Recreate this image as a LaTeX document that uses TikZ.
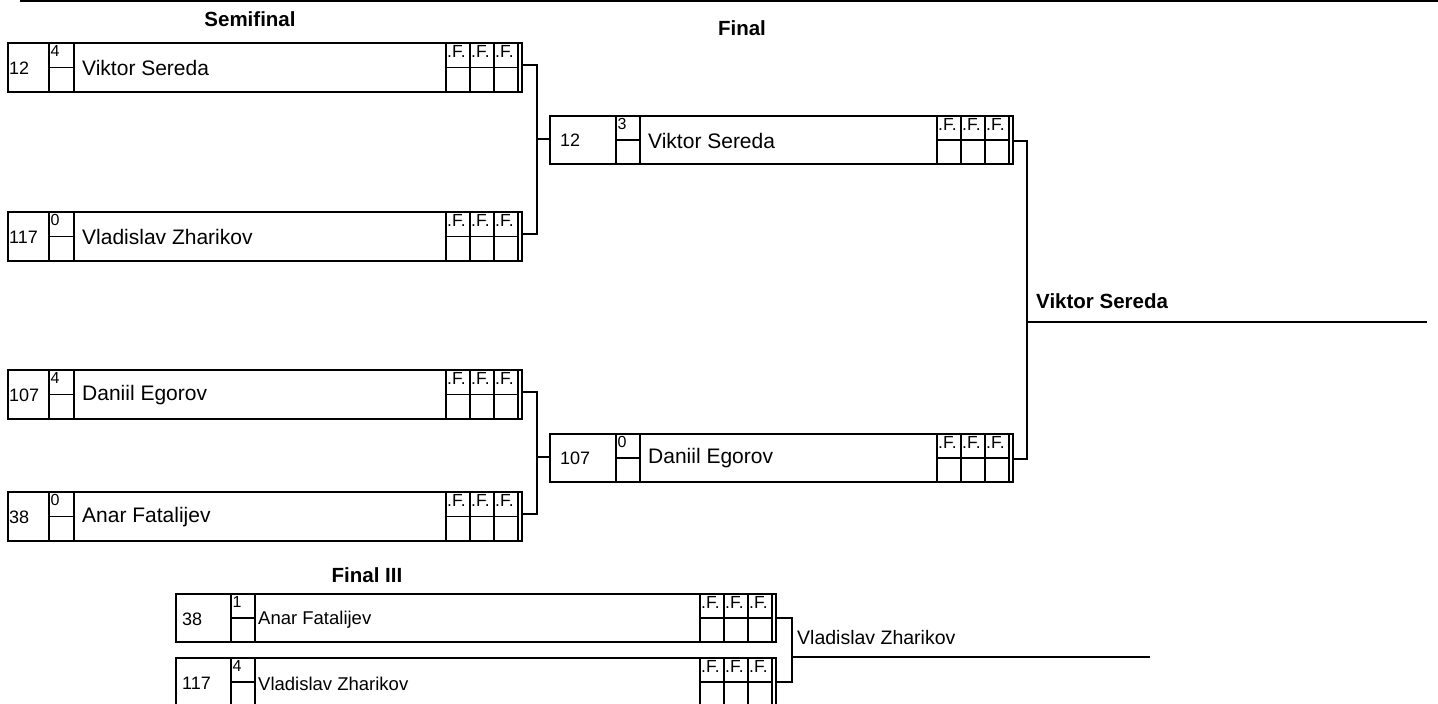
\documentclass[tikz,border=0pt]{standalone}
\usepackage{fontspec}
\setmainfont{Liberation Sans}
\usetikzlibrary{fit}
\tikzset{
  boxn/.style={draw, line width=1.3pt, inner sep=0pt},
  cell/.style={line width=1.8pt},
  conn/.style={line width=1.3pt},
  flab/.style={font=\fontsize{17.5}{19}\selectfont, anchor=north west, inner sep=0pt},
  scoret/.style={font=\fontsize{16}{18}\selectfont, anchor=north west, inner sep=0pt},
  seedt/.style={font=\fontsize{18}{20}\selectfont, anchor=west, inner sep=0pt},
  pname/.style={font=\fontsize{21}{24}\selectfont, anchor=west, inner sep=0pt},
  pnamesmall/.style={font=\fontsize{18.5}{21}\selectfont, anchor=west, inner sep=0pt},
  title/.style={font=\bfseries\fontsize{20.5}{24}\selectfont, inner sep=0pt},
  winner/.style={font=\bfseries\fontsize{20.5}{24}\selectfont, anchor=west, inner sep=0pt},
  winnersmall/.style={font=\fontsize{19.5}{22}\selectfont, anchor=west, inner sep=0pt},
}
% #1 name, #2 L, #3 T, #4 B, #5 S1, #6 S2, #7 R
\newcommand\genbox[7]{%
  \coordinate (#1-nw) at (#2,#3);
  \coordinate (#1-se) at (#7,#4);
  \node[boxn, fit=(#1-nw)(#1-se)] (#1) {};
  \draw[cell] (#5,#3) -- (#5,#4) (#6,#3) -- (#6,#4)
    (#5,#3) -- (#6,#3) (#5,#4) -- (#6,#4)
    (#5,{(#3+#4)/2}) -- (#6,{(#3+#4)/2});
  \draw[cell] (#7-76,#3) -- (#7-76,#4) (#7-52,#3) -- (#7-52,#4)
    (#7-28,#3) -- (#7-28,#4) (#7-4,#3) -- (#7-4,#4)
    (#7-76,{(#3+#4)/2}) -- (#7-4,{(#3+#4)/2})
    (#7-76,#3) -- (#7-4,#3) (#7-76,#4) -- (#7-4,#4);
  \foreach \fx in {76,52,28} \node[flab] (#1-f\fx) at (#7-\fx+1,#3+2.5) {.F.};
}
% name, top, seed, score, player
\newcommand\semibox[5]{%
  \genbox{#1}{8}{#2}{#2+49}{49}{74}{522}
  \coordinate (#1-out) at (522,#2+22);
  \node[seedt] (#1-seed) at (9,#2+25) {#3};
  \node[scoret] (#1-score) at (50.5,#2+2.5) {#4};
  \node[pname] (#1-name) at (82,#2+25) {#5};
}
\newcommand\finbox[5]{%
  \genbox{#1}{550}{#2}{#2+48}{616}{640}{1013}
  \coordinate (#1-in) at (550,#2+23);
  \coordinate (#1-out) at (1013,#2+25);
  \node[seedt] (#1-seed) at (560,#2+24.5) {#3};
  \node[scoret] (#1-score) at (617.5,#2+2.5) {#4};
  \node[pname] (#1-name) at (648,#2+24.5) {#5};
}
\newcommand\thirdbox[5]{%
  \genbox{#1}{176}{#2}{#2+48}{231}{255}{776}
  \coordinate (#1-out) at (776,#2+24);
  \node[seedt] (#1-seed) at (182,#2+25) {#3};
  \node[scoret] (#1-score) at (232.5,#2+2.5) {#4};
  \node[pnamesmall] (#1-name) at (258,#2+26) {#5};
}
\begin{document}
\begin{tikzpicture}[x=1pt,y=-1pt]
\useasboundingbox (0,0) rectangle (1438,704);
\clip (0,0) rectangle (1438,704);
% top rule
\coordinate (topl) at (20,1);
\coordinate (topr) at (1438,1);
\draw[line width=2pt] (topl) -- (topr);
% titles
\node[title] (tsemi) at (250,19) {Semifinal};
\node[title] (tfin) at (742,28) {Final};
\node[title] (tthird) at (367,575) {Final III};
% semifinal
\semibox{s1}{43}{12}{4}{Viktor Sereda}
\semibox{s2}{212}{117}{0}{Vladislav Zharikov}
\semibox{s3}{370}{107}{4}{Daniil Egorov}
\semibox{s4}{492}{38}{0}{Anar Fatalijev}
% final
\finbox{f1}{116}{12}{3}{Viktor Sereda}
\finbox{f2}{434}{107}{0}{Daniil Egorov}
% third place
\thirdbox{t1}{594}{38}{1}{Anar Fatalijev}
\thirdbox{t2}{658}{117}{4}{Vladislav Zharikov}
% connectors semifinal -> final
\coordinate (j1) at (537,150);
\coordinate (j2) at (537,450);
\draw[conn] (s1-out) -| (j1) |- (s2-out);
\draw[conn] (j1 |- f1-in) -- (f1-in);
\draw[conn] (s3-out) -| (j2) |- (s4-out);
\draw[conn] (j2 |- f2-in) -- (f2-in);
% final -> winner
\coordinate (jf) at (1027,300);
\draw[conn] (f1-out) -| (jf) |- (f2-out);
\coordinate (w1a) at (1027,322);
\coordinate (w1b) at (1427,322);
\draw[conn] (w1a) -- (w1b);
\node[winner] (w1) at (1036,301) {Viktor Sereda};
% third place -> winner
\coordinate (jt) at (792,640);
\draw[conn] (t1-out) -| (jt) |- (t2-out);
\coordinate (w3a) at (792,657);
\coordinate (w3b) at (1150,657);
\draw[conn] (w3a) -- (w3b);
\node[winnersmall] (w3) at (797,638) {Vladislav Zharikov};
\end{tikzpicture}
\end{document}
